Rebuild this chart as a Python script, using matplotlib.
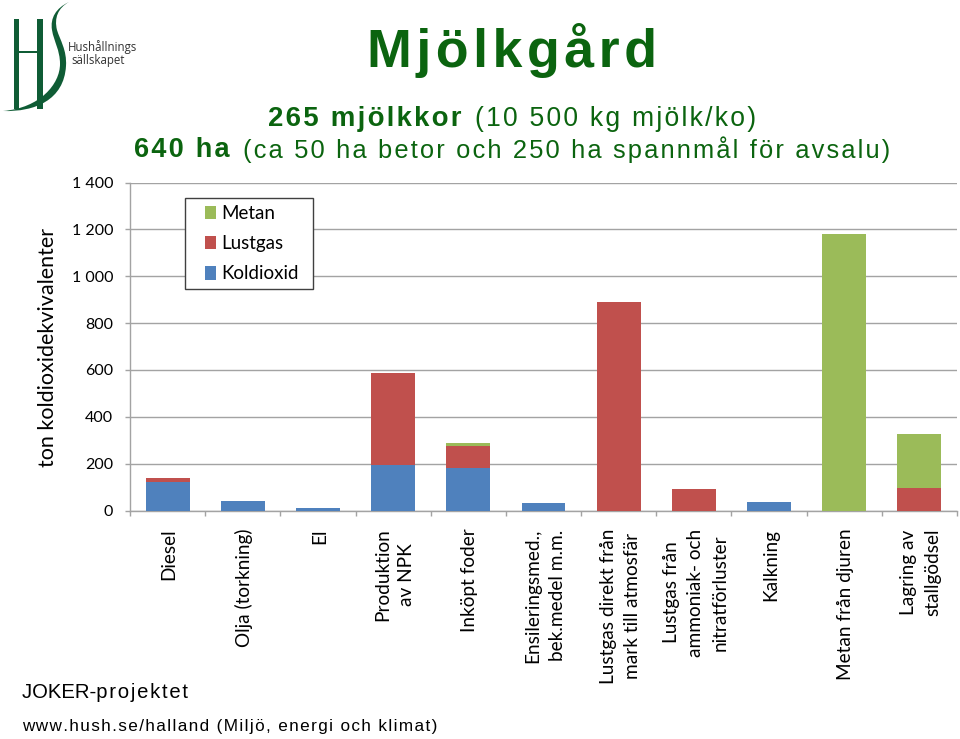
import matplotlib
matplotlib.use("Agg")
import numpy as np
import matplotlib.pyplot as plt
from matplotlib.path import Path
from matplotlib.patches import PathPatch, Rectangle
from matplotlib.transforms import ScaledTranslation

# data
kategorier = ["Diesel", "Olja (torkning)", "El", "Produktion\nav NPK", "Inköpt foder",
              "Ensileringsmed.,\nbek.medel m.m.", "Lustgas direkt från\nmark till atmosfär",
              "Lustgas från\nammoniak- och\nnitratförluster", "Kalkning",
              "Metan från djuren", "Lagring av\nstallgödsel"]
koldioxid = [123, 39, 10, 193, 181, 30, 0, 0, 35, 0, 0]
lustgas = [14, 0, 0, 392, 94, 0, 890, 92, 0, 0, 97]
metan = [0, 0, 0, 0, 13, 0, 0, 0, 0, 1182, 229]
y_ticks = [0, 200, 400, 600, 800, 1000, 1200, 1400]
y_labels = ["0", "200", "400", "600", "800", "1 000", "1 200", "1 400"]

BLA = "#4f81bd"
ROD = "#c0504d"
GRON = "#9bbb59"
MORKGRON = "#0b640f"
GRID = "#a3a3a3"
W, H = 960, 739
SANS = "Liberation Sans"
CAL = "Lato"


def luft(s):
    # sperrad text, hair space between the letters
    return "\u200a".join(s)


fig = plt.figure(figsize=(W / 100, H / 100), dpi=100)
ax = fig.add_axes([130 / W, 1 - 510.5 / H, (957 - 130) / W, 328 / H])

x = np.arange(len(kategorier))
k = np.array(koldioxid)
l = np.array(lustgas)
m = np.array(metan)
bw = 0.585
ax.bar(x, k, bw, color=BLA, label="Koldioxid", zorder=3)
ax.bar(x, l, bw, bottom=k, color=ROD, label="Lustgas", zorder=3)
ax.bar(x, m, bw, bottom=k + l, color=GRON, label="Metan", zorder=3)

ax.set_xlim(-0.5, len(kategorier) - 0.5)
ax.set_ylim(0, 1400)
ax.set_yticks(y_ticks)
ax.set_yticklabels(y_labels, fontsize=11.5, family=CAL)
ax.set_xticks(x)
ax.set_xticklabels(kategorier, rotation=90, fontsize=13.7, family=CAL, va="top", ha="center",
                   ma="center", linespacing=1.52)
ax.set_xticks(np.arange(len(kategorier) + 1) - 0.5, minor=True)
ax.tick_params(axis="x", which="major", length=0, pad=13)
ax.tick_params(axis="x", which="minor", length=3.6, width=1, color=GRID)
ax.tick_params(axis="y", length=3.6, width=1, color=GRID, pad=8.6)
ax.grid(axis="y", color=GRID, linewidth=1, zorder=0)
ax.set_axisbelow(True)
for s in ["top", "right"]:
    ax.spines[s].set_visible(False)
for s in ["left", "bottom"]:
    ax.spines[s].set_color(GRID)
    ax.spines[s].set_linewidth(1)
# labels sit a bit to the right of the bars
skift = ScaledTranslation(1.5 / 100, 0, fig.dpi_scale_trans)
for t in ax.get_xticklabels():
    t.set_transform(t.get_transform() + skift)

# pixel overlay for titles and logo
ov = fig.add_axes([0, 0, 1, 1], zorder=10)
ov.set_xlim(0, W)
ov.set_ylim(H, 0)
ov.axis("off")
ov.patch.set_alpha(0)

# legend box is drawn apart, the handles sit further in than borderpad allows
ax.add_patch(Rectangle((185, 198), 128, 91, transform=ov.transData, facecolor="white",
                       edgecolor="#404040", linewidth=1, zorder=4, clip_on=False))
h, lab = ax.get_legend_handles_labels()
leg = ax.legend(h[::-1], lab[::-1], loc="upper left",
                bbox_to_anchor=((205 - 130) / 827, (510.5 - 205) / 328),
                borderaxespad=0, borderpad=0, prop={"family": CAL, "size": 13.5}, frameon=False,
                handlelength=0.6, handleheight=0.75, handletextpad=0.27, labelspacing=0.7)
leg.set_zorder(5)

ov.text(512, 50, luft("Mjölkgård"), fontsize=38.7, fontweight="bold", color=MORKGRON,
        family=SANS, ha="center", va="center")
ov.text(268, 119, luft("265 mjölkkor"), fontsize=19.9, fontweight="bold", color=MORKGRON,
        family=SANS, ha="left", va="center")
ov.text(475, 119, luft("(10 500 kg mjölk/ko)"), fontsize=19.1, color=MORKGRON,
        family=SANS, ha="left", va="center")
ov.text(134, 150, luft("640 ha"), fontsize=19.5, fontweight="bold", color=MORKGRON,
        family=SANS, ha="left", va="center")
ov.text(243, 150, luft("(ca 50 ha betor och 250 ha spannmål för avsalu)"), fontsize=18.4,
        color=MORKGRON, family=SANS, ha="left", va="center")
ov.text(48, 347, "ton koldioxidekvivalenter", fontsize=15.5, family=CAL, rotation=90,
        ha="center", va="center", color="black")
ov.text(22, 693, "JOKER-" + luft("projektet"), fontsize=14.6, family=SANS, ha="left", va="center")
ov.text(22, 727, luft("www.hush.se/halland (Miljö, energi och klimat)"), fontsize=12.3, family=SANS,
        ha="left", va="center")

# logo
LOGO = "#0f5c35"
ov.add_patch(Rectangle((14, 19), 5, 90, color=LOGO, lw=0))
ov.add_patch(Rectangle((37, 19), 6, 90, color=LOGO, lw=0))
ov.add_patch(Rectangle((19, 51), 18, 1.5, color=LOGO, lw=0))
s_path = Path([(69, 2), (56, 8), (50, 18), (52, 30), (54, 42), (60, 50), (60, 64), (60, 84), (40, 108), (3, 111),
               (35, 112), (64, 100), (66, 66), (67, 50), (60, 40), (57, 30), (54, 18), (58, 8), (69, 2)],
              [Path.MOVETO] + [Path.CURVE4] * 18)
ov.add_patch(PathPatch(s_path, facecolor=LOGO, edgecolor="none"))
ov.text(68, 47.5, "Hushållnings", fontsize=8.3, family="Open Sans", color="#333333", va="center", ha="left")
ov.text(71, 60.5, "sällskapet", fontsize=8.3, family="Open Sans", color="#333333", va="center", ha="left")

fig.savefig("out.png", dpi=100)
